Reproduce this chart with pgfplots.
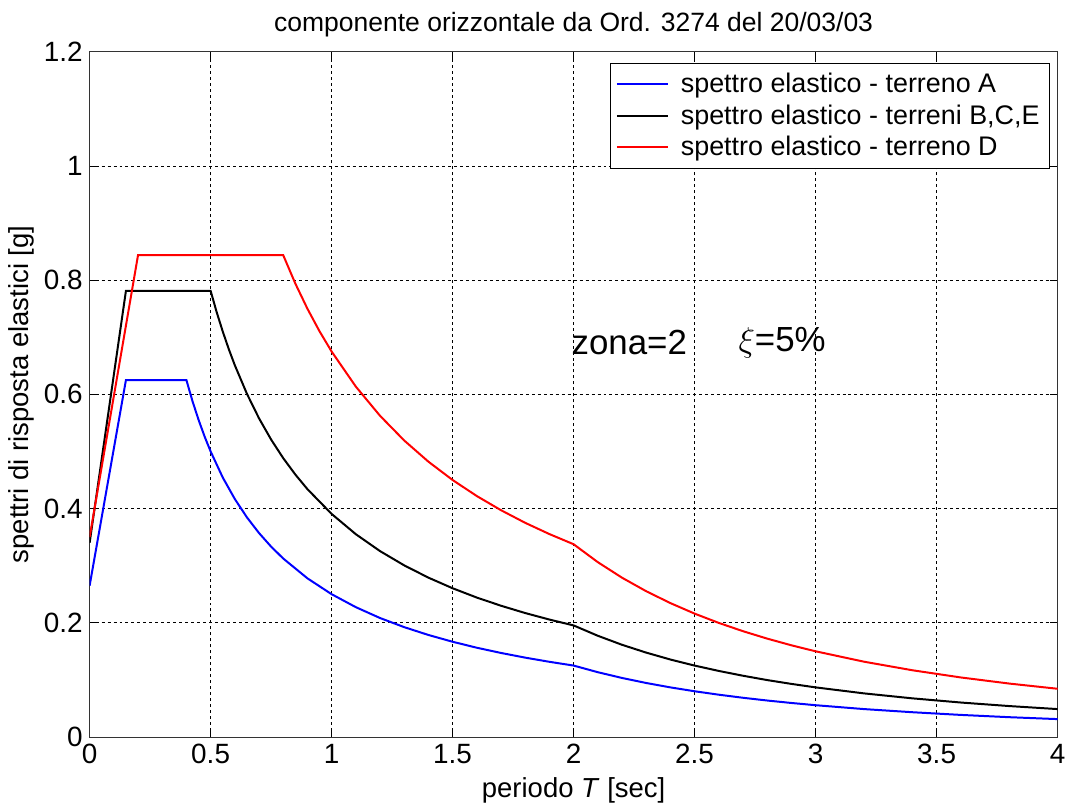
\documentclass[border=0pt]{standalone}
\usepackage{pgfplots}
\pgfplotsset{compat=1.18}
\usepackage{fontspec}
\setmainfont{Liberation Sans}

\begin{document}
\begin{tikzpicture}
\begin{axis}[
    scale only axis,
    width=486pt,
    height=344pt,
    xmin=0, xmax=4,
    ymin=0, ymax=1.2,
    xtick={0,0.5,...,4},
    ytick={0,0.2,...,1.2},
    /pgf/number format/assume math mode=true,
    ticklabel style={font=\fontsize{14}{16}\selectfont},
    tick align=inside,
    major tick length=4pt,
    tick style={black, thin},
    axis line style={black!80, thin},
    grid=major,
    grid style={black, thin, dash pattern=on 1.5pt off 1.5pt},
    title={componente orizzontale da Ord. 3274 del 20/03/03},
    title style={font=\fontsize{13.3}{15}\selectfont, yshift=-2pt},
    xlabel={periodo \textit{T} [sec]},
    ylabel={spettri di risposta elastici [g]},
    label style={font=\fontsize{13.8}{15}\selectfont},
    xlabel style={yshift=0pt},
    ylabel style={yshift=-2pt},
    legend style={at={(0.992,0.984)}, anchor=north east, draw=black, thin,
        font=\fontsize{13.5}{15}\selectfont, row sep=0.5pt, inner sep=3pt,
        column sep=4pt, legend cell align=left},
    legend image post style={line width=1pt, xscale=1.5},
]
\addplot[blue, line width=1pt] coordinates {
(0,0.265) (0.15,0.625) (0.4,0.625) (0.425,0.5882) (0.45,0.5556) (0.475,0.5263)
(0.5,0.5) (0.55,0.4545) (0.6,0.4167) (0.65,0.3846) (0.7,0.3571) (0.75,0.3333)
(0.8,0.3125) (0.9,0.2778) (1.0,0.25) (1.1,0.2273) (1.2,0.2083) (1.3,0.1923)
(1.4,0.1786) (1.5,0.1667) (1.6,0.15625) (1.7,0.1471) (1.8,0.1389) (1.9,0.1316)
(2.0,0.125) (2.1,0.1134) (2.2,0.1033) (2.3,0.0945) (2.4,0.0868) (2.5,0.08)
(2.6,0.0740) (2.7,0.0686) (2.8,0.0638) (2.9,0.0595) (3.0,0.0556) (3.2,0.0488)
(3.4,0.0433) (3.6,0.0386) (3.8,0.0346) (4.0,0.03125)};
\addlegendentry{spettro elastico - terreno A}
\addplot[black, line width=1pt] coordinates {
(0,0.34) (0.15,0.78125) (0.5,0.78125) (0.525,0.7440) (0.55,0.7102) (0.575,0.6793)
(0.6,0.6510) (0.65,0.6010) (0.7,0.5580) (0.75,0.5208) (0.8,0.4883) (0.85,0.4596)
(0.9,0.4340) (1.0,0.3906) (1.1,0.3551) (1.2,0.3255) (1.3,0.3005) (1.4,0.2790)
(1.5,0.2604) (1.6,0.2441) (1.7,0.2298) (1.8,0.2170) (1.9,0.2056) (2.0,0.1953)
(2.1,0.1772) (2.2,0.1614) (2.3,0.1477) (2.4,0.1356) (2.5,0.125) (2.6,0.1156)
(2.7,0.1072) (2.8,0.0996) (2.9,0.0929) (3.0,0.0868) (3.2,0.0763) (3.4,0.0676)
(3.6,0.0603) (3.8,0.0541) (4.0,0.0488)};
\addlegendentry{spettro elastico - terreni B,C,E}
\addplot[red, line width=1pt] coordinates {
(0,0.35) (0.2,0.84375) (0.8,0.84375) (0.85,0.7941) (0.9,0.75) (0.95,0.7105)
(1.0,0.675) (1.1,0.6136) (1.2,0.5625) (1.3,0.5192) (1.4,0.4821) (1.5,0.45)
(1.6,0.4219) (1.7,0.3971) (1.8,0.375) (1.9,0.3553) (2.0,0.3375) (2.1,0.3061)
(2.2,0.2789) (2.3,0.2552) (2.4,0.2344) (2.5,0.216) (2.6,0.1997) (2.7,0.1852)
(2.8,0.1722) (2.9,0.1605) (3.0,0.15) (3.2,0.1318) (3.4,0.1168) (3.6,0.1042)
(3.8,0.0935) (4.0,0.084375)};
\addlegendentry{spettro elastico - terreno D}
\node[anchor=west, font=\fontsize{17.5}{19}\selectfont, inner sep=0pt]
    at (axis cs:1.99,0.69) {zona=2};
\node[anchor=west, font=\fontsize{17.5}{19}\selectfont, inner sep=0pt]
    at (axis cs:2.68,0.69) {$\xi$=5\%};
\end{axis}
\path ([xshift=-45pt,yshift=-32.5pt]current axis.south west)
    rectangle ([xshift=5pt,yshift=26pt]current axis.north east);
\end{tikzpicture}
\end{document}
